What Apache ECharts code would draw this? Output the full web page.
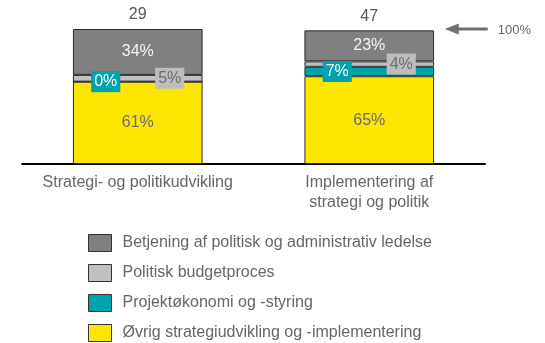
<!DOCTYPE html>
<html>
<head>
<meta charset="utf-8">
<script src="https://cdn.jsdelivr.net/npm/echarts@6/dist/echarts.min.js"></script>
<style>
  html, body { margin: 0; padding: 0; background: #fff; }
  #chart { width: 545px; height: 343px; }
</style>
</head>
<body>
<div id="chart"></div>
<script>
// Categories and per-category headcount shown above each bar
const categories = ['Strategi- og politikudvikling', 'Implementering af\nstrategi og politik'];
const totals = [29, 47];

// Shares (%) per activity, bottom of the stack first
const ovrig = [61, 65];
const projekt = [0, 7];
const budget = [5, 4];
const betjening = [34, 23];

// Reference level marked by the arrow on the right
const refValue = 100;
const refLabel = '100%';

const seriesNames = [
  'Betjening af politisk og administrativ ledelse',
  'Politisk budgetproces',
  'Projektøkonomi og -styring',
  'Øvrig strategiudvikling og -implementering'
];

const FONT = '"Liberation Sans", Arial, Helvetica, sans-serif';
const BORDER = { borderColor: '#2b2b2b', borderWidth: 1 };

function pct(p) { return p.value + '%'; }

const chart = echarts.init(document.getElementById('chart'), null, { renderer: 'canvas' });

chart.setOption({
  animation: false,
  backgroundColor: '#ffffff',
  textStyle: { fontFamily: FONT },
  grid: { left: 22, right: 60, top: 29, bottom: 179, containLabel: false },
  legend: {
    orient: 'vertical',
    left: 88,
    top: 234,
    padding: 0,
    icon: 'rect',
    itemWidth: 23,
    itemHeight: 17,
    itemGap: 12,
    data: seriesNames,
    itemStyle: { borderColor: '#333', borderWidth: 1 },
    textStyle: { fontFamily: FONT, fontSize: 16, color: '#666', lineHeight: 17, padding: [0, 0, 0, 6] },
    selectedMode: false
  },
  xAxis: {
    type: 'category',
    data: categories,
    axisLine: { show: true, lineStyle: { color: '#000', width: 2 } },
    axisTick: { show: false },
    axisLabel: { fontFamily: FONT, fontSize: 16, color: '#666', lineHeight: 20, margin: 9, interval: 0 }
  },
  yAxis: { type: 'value', min: 0, max: 100, show: false },
  series: [
    {
      name: seriesNames[3], type: 'bar', stack: 's', data: ovrig, barWidth: '56%',
      itemStyle: Object.assign({ color: '#ffe600' }, BORDER),
      label: { show: true, position: 'inside', formatter: pct, fontSize: 16, color: '#6b6b6b', fontFamily: FONT }
    },
    {
      name: seriesNames[2], type: 'bar', stack: 's', data: projekt,
      itemStyle: Object.assign({ color: '#00a3ad' }, BORDER),
      label: {
        show: true, position: 'inside', formatter: pct, fontSize: 16, color: '#ffffff', fontFamily: FONT,
        backgroundColor: '#00a3ad', padding: [3, 3, 2, 3], offset: [-32, 0]
      }
    },
    {
      name: seriesNames[1], type: 'bar', stack: 's', data: budget,
      itemStyle: Object.assign({ color: '#c0c0c0' }, BORDER),
      label: {
        show: true, position: 'inside', formatter: pct, fontSize: 16, color: '#6e6e6e', fontFamily: FONT,
        backgroundColor: '#bdbdbd', padding: [3, 3, 2, 3], offset: [32, 0]
      }
    },
    {
      name: seriesNames[0], type: 'bar', stack: 's', data: betjening,
      itemStyle: Object.assign({ color: '#808080' }, BORDER),
      label: { show: true, position: 'inside', formatter: pct, fontSize: 16, color: '#f4f4f4', fontFamily: FONT },
      markPoint: {
        silent: true,
        data: [{
          coord: [1, refValue],
          symbol: 'path://M0,5.5L14,0L14,4L43,4L43,7L14,7L14,11Z',
          symbolSize: [43, 11],
          symbolOffset: [97, 0],
          itemStyle: { color: '#707070' },
          label: {
            show: true, position: 'right', distance: 10, formatter: refLabel,
            fontSize: 13, color: '#666', fontFamily: FONT, offset: [0, 1]
          }
        }]
      }
    },
    {
      // zero-height cap that carries the headcount label on top of each stack
      name: 'total', type: 'bar', stack: 's', data: totals.map(() => 0),
      itemStyle: { color: 'transparent', borderWidth: 0 },
      label: {
        show: true, position: 'top', distance: 6,
        formatter: p => String(totals[p.dataIndex]),
        fontSize: 16, color: '#555', fontFamily: FONT
      }
    }
  ]
});
</script>
</body>
</html>
